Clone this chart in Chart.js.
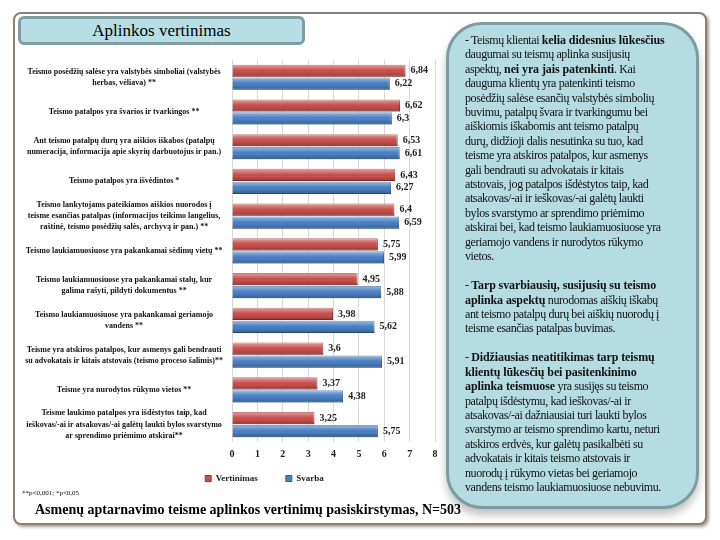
<!DOCTYPE html>
<html>
<head>
<meta charset="utf-8">
<script src="https://cdn.jsdelivr.net/npm/chart.js@4.4.1/dist/chart.umd.min.js"></script>
<style>
  html, body { margin: 0; padding: 0; background: #ffffff; }
  body { width: 720px; height: 540px; position: relative; overflow: hidden; font-family: "Liberation Serif", "DejaVu Serif", serif; }
  #frame { position: absolute; left: 13px; top: 12px; width: 690px; height: 509px; border: 2px solid #8e7f74; border-radius: 8px; box-shadow: 2px 2px 3px rgba(80,60,50,0.5); background: #fff; }
  #title { position: absolute; left: 18px; top: 16px; width: 281px; height: 23px; background: #b8dee5; border: 3px solid #7f9ca2; border-radius: 6px; text-align: center; font-size: 17px; line-height: 23px; color: #000; }
  #chartBox { position: absolute; left: 22px; top: 42px; width: 478px; height: 453px; }
  #panel { position: absolute; left: 446px; top: 22px; width: 247px; height: 481px; background: #b6dce3; border: 3px solid #7d9ca2; border-radius: 36px; box-shadow: 0 6px 8px rgba(0,0,0,0.25); }
  #panelText { position: absolute; left: 16px; top: 8px; font-size: 12px; line-height: 14.4px; color: #111; white-space: nowrap; letter-spacing: -0.4px; }
  #panelText b { letter-spacing: -0.1px; }
  #panelText p { margin: 0 0 14.6px 0; }
  #note { position: absolute; left: 22px; top: 489px; font-size: 7px; color: #000; }
  #caption { position: absolute; left: 35px; top: 502px; font-size: 14px; font-weight: bold; color: #000; white-space: nowrap; }
</style>
</head>
<body>
<div id="frame"></div>
<div id="title">Aplinkos vertinimas</div>
<div id="chartBox"><canvas id="envChart"></canvas></div>
<div id="panel">
  <div id="panelText">
    <p>- Teismų klientai <b>kelia didesnius lūkesčius</b><br>daugumai su teismų aplinka susijusių<br>aspektų, <b>nei yra jais patenkinti</b>. Kai<br>dauguma klientų yra patenkinti teismo<br>posėdžių salėse esančių valstybės simbolių<br>buvimu, patalpų švara ir tvarkingumu bei<br>aiškiomis iškabomis ant teismo patalpų<br>durų, didžioji dalis nesutinka su tuo, kad<br>teisme yra atskiros patalpos, kur asmenys<br>gali bendrauti su advokatais ir kitais<br>atstovais, jog patalpos išdėstytos taip, kad<br>atsakovas/-ai ir ieškovas/-ai galėtų laukti<br>bylos svarstymo ar sprendimo priėmimo<br>atskirai bei, kad teismo laukiamuosiuose yra<br>geriamojo vandens ir nurodytos rūkymo<br>vietos.</p>
    <p>- <b>Tarp svarbiausių, susijusių su teismo<br>aplinka aspektų</b> nurodomas aiškių iškabų<br>ant teismo patalpų durų bei aiškių nuorodų į<br>teisme esančias patalpas buvimas.</p>
    <p>- <b>Didžiausias neatitikimas tarp teismų<br>klientų lūkesčių bei pasitenkinimo<br>aplinka teismuose</b> yra susijęs su teismo<br>patalpų išdėstymu, kad ieškovas/-ai ir<br>atsakovas/-ai dažniausiai turi laukti bylos<br>svarstymo ar teismo sprendimo kartu, neturi<br>atskiros erdvės, kur galėtų pasikalbėti su<br>advokatais ir kitais teismo atstovais ir<br>nuorodų į rūkymo vietas bei geriamojo<br>vandens teismo laukiamuosiuose nebuvimu.</p>
  </div>
</div>
<div id="note">**p&lt;0,001; *p&lt;0,05</div>
<div id="caption">Asmenų aptarnavimo teisme aplinkos vertinimų pasiskirstymas, N=503</div>

<script>
const categories = [
    ['Teismo posėdžių salėse yra valstybės simboliai (valstybės', 'herbas, vėliava) **'],
    'Teismo patalpos yra švarios ir tvarkingos **',
    ['Ant teismo patalpų durų yra aiškios iškabos (patalpų', 'numeracija, informacija apie skyrių darbuotojus ir pan.)'],
    'Teismo patalpos yra išvėdintos *',
    ['Teismo lankytojams pateikiamos aiškios nuorodos į', 'teisme esančias patalpas (informacijos teikimo langelius,', 'raštinė, teismo posėdžių salės, archyvą ir pan.) **'],
    'Teismo laukiamuosiuose yra pakankamai sėdimų vietų **',
    ['Teismo laukiamuosiuose yra pakankamai stalų, kur', 'galima rašyti, pildyti dokumentus **'],
    ['Teismo laukiamuosiuose yra pakankamai geriamojo', 'vandens **'],
    ['Teisme yra atskiros patalpos, kur asmenys gali bendrauti', 'su advokatais ir kitais atstovais (teismo proceso šalimis)**'],
    'Teisme yra nurodytos rūkymo vietos **',
    ['Teisme laukimo patalpos yra išdėstytos taip, kad', 'ieškovas/-ai ir atsakovas/-ai galėtų laukti bylos svarstymo', 'ar sprendimo priėmimo atskirai**']
];
const vertinimas = [6.84, 6.62, 6.53, 6.43, 6.4, 5.75, 4.95, 3.98, 3.6, 3.37, 3.25];
const svarba = [6.22, 6.3, 6.61, 6.27, 6.59, 5.99, 5.88, 5.62, 5.91, 4.38, 5.75];
const xTicks = [0, 1, 2, 3, 4, 5, 6, 7, 8];

const serif = '"Liberation Serif", "DejaVu Serif", serif';

// glossy shading + value labels on each bar
const barExtras = {
    id: 'barExtras',
    afterDatasetsDraw(chart) {
        const ctx = chart.ctx;
        ctx.save();
        chart.data.datasets.forEach((ds, di) => {
            const meta = chart.getDatasetMeta(di);
            meta.data.forEach((bar, i) => {
                const top = bar.y - bar.height / 2;
                const g = ctx.createLinearGradient(0, top, 0, top + bar.height);
                g.addColorStop(0, 'rgba(255,255,255,0.45)');
                g.addColorStop(0.35, 'rgba(255,255,255,0.12)');
                g.addColorStop(0.6, 'rgba(0,0,0,0)');
                g.addColorStop(1, 'rgba(0,0,0,0.28)');
                ctx.fillStyle = g;
                ctx.fillRect(bar.base, top, bar.x - bar.base, bar.height);

                ctx.fillStyle = '#222';
                ctx.font = 'bold 10px ' + serif;
                ctx.textAlign = 'left';
                ctx.textBaseline = 'middle';
                ctx.fillText(String(ds.data[i]).replace('.', ','), bar.x + 5, bar.y);
            });
        });
        ctx.restore();
    }
};

// move the legend to where it sits in the original
const legendShift = {
    id: 'legendShift',
    afterLayout(chart) {
        chart.legend.left += 36;
        chart.legend.right += 36;
    }
};

new Chart(document.getElementById('envChart'), {
    type: 'bar',
    data: {
        labels: categories,
        datasets: [
            {
                label: 'Vertinimas',
                data: vertinimas,
                backgroundColor: '#c94f4c',
                borderColor: '#9b3532',
                borderWidth: 1,
                barPercentage: 0.95,
                categoryPercentage: 0.74
            },
            {
                label: 'Svarba',
                data: svarba,
                backgroundColor: '#4a80c4',
                borderColor: '#2f5f99',
                borderWidth: 1,
                barPercentage: 0.95,
                categoryPercentage: 0.74
            }
        ]
    },
    options: {
        indexAxis: 'y',
        responsive: true,
        maintainAspectRatio: false,
        animation: false,
        layout: { padding: { top: 0, right: 65, bottom: 2 } },
        scales: {
            x: {
                min: 0,
                max: 8,
                afterBuildTicks: axis => { axis.ticks = xTicks.map(v => ({ value: v })); },
                afterFit: axis => { axis.height = 22; },
                grid: { color: '#d9d9d9', drawTicks: false },
                border: { display: false },
                ticks: { color: '#222', font: { family: serif, size: 10, weight: 'bold' }, padding: 6 }
            },
            y: {
                afterFit: axis => { axis.width = 210; },
                grid: { display: false },
                border: { display: false },
                ticks: {
                    crossAlign: 'center',
                    color: '#111',
                    padding: 1,
                    autoSkip: false,
                    font: { family: serif, size: 8, weight: 'bold', lineHeight: 1.4 }
                }
            }
        },
        plugins: {
            legend: {
                position: 'bottom',
                labels: {
                    boxWidth: 6,
                    boxHeight: 6,
                    padding: 10,
                    color: '#222',
                    font: { family: serif, size: 9, weight: 'bold' },
                    generateLabels: chart => {
                        const items = Chart.defaults.plugins.legend.labels.generateLabels(chart);
                        items[0].text += '        ';
                        return items;
                    }
                }
            },
            tooltip: { enabled: false }
        }
    },
    plugins: [barExtras, legendShift]
});
</script>
</body>
</html>
